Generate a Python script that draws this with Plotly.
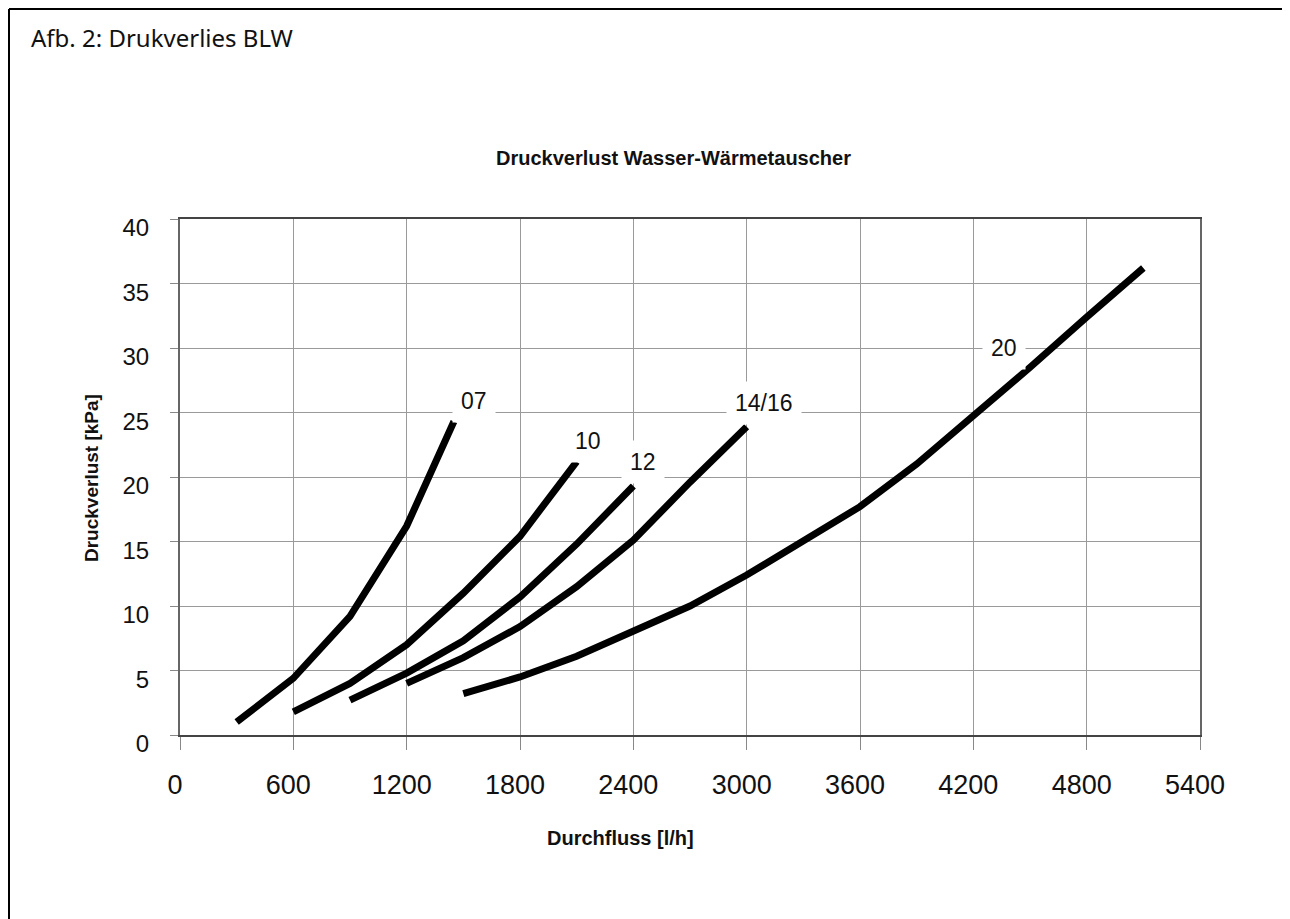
import plotly.graph_objects as go

# ---- data ----
x_07 = [300, 600, 900, 1200, 1450]
y_07 = [1.0, 4.4, 9.2, 16.2, 24.3]

x_10 = [600, 900, 1200, 1500, 1800, 2100]
y_10 = [1.8, 4.0, 7.0, 11.0, 15.4, 21.2]

x_12 = [900, 1200, 1500, 1800, 2100, 2400]
y_12 = [2.7, 4.8, 7.3, 10.7, 14.8, 19.3]

x_1416 = [1200, 1500, 1800, 2100, 2400, 2700, 3000]
y_1416 = [4.0, 6.0, 8.4, 11.5, 15.1, 19.6, 23.9]

x_20 = [1500, 1800, 2100, 2400, 2700, 3000, 3300, 3600, 3900, 4200, 4500, 4800, 5100]
y_20 = [3.2, 4.5, 6.1, 8.0, 10.0, 12.4, 15.0, 17.7, 21.0, 24.7, 28.5, 32.4, 36.2]

series_names = ["07", "10", "12", "14/16", "20"]
label_x = [1556, 2160, 2451, 3092, 4362]
label_y = [25.9, 22.8, 21.2, 25.7, 30.0]

x_ticks = [0, 600, 1200, 1800, 2400, 3000, 3600, 4200, 4800, 5400]
y_ticks = [0, 5, 10, 15, 20, 25, 30, 35, 40]

header_text = "Afb. 2: Drukverlies BLW"
chart_title = "Druckverlust Wasser-Wärmetauscher"
x_title = "Durchfluss [l/h]"
y_title = "Druckverlust [kPa]"

# ---- geometry ----
OFF = 8                      # page body margin in the browser
FW, FH = 1290 - OFF, 919 - OFF
L, R, T, B = 180, 1200, 219, 735  # plot area in screen pixels


def px_x(p):
    return (p - L) / (R - L)


def px_y(p):
    return (B - p) / (B - T)


fig = go.Figure()
for xs, ys, nm in zip([x_07, x_10, x_12, x_1416, x_20],
                      [y_07, y_10, y_12, y_1416, y_20], series_names):
    fig.add_trace(go.Scatter(x=xs, y=ys, mode="lines", name=nm,
                             line=dict(color="black", width=7),
                             hoverinfo="skip"))

for nm, lx, ly in zip(series_names, label_x, label_y):
    fig.add_annotation(x=lx, y=ly, xref="x", yref="y", text=nm,
                       showarrow=False, bgcolor="white", borderpad=8,
                       font=dict(family="Liberation Sans", size=23, color="#111"))

fig.update_layout(
    width=FW, height=FH,
    margin=dict(l=L - OFF, r=FW - (R - OFF), t=T - OFF, b=FH - (B - OFF), pad=0),
    paper_bgcolor="white", plot_bgcolor="white",
    showlegend=False,
    font=dict(family="Liberation Sans", color="#111"),
)

fig.update_xaxes(range=[0, 5400], tickvals=x_ticks, ticktext=[str(v) for v in x_ticks],
                 showgrid=True, gridcolor="#9a9a9a", gridwidth=1.2,
                 showline=True, linecolor="#444", linewidth=2, mirror=True,
                 ticks="outside", ticklen=13, tickcolor="#888", tickwidth=1.2,
                 tickfont=dict(size=27, family="Liberation Sans", color="#111"),
                 ticklabelstandoff=12, ticklabelshift=-5, zeroline=False)
fig.update_yaxes(range=[0, 40], tickvals=y_ticks, ticktext=[str(v) for v in y_ticks],
                 showgrid=True, gridcolor="#9a9a9a", gridwidth=1.2,
                 showline=True, linecolor="#666", linewidth=2, mirror=True,
                 ticks="outside", ticklen=8, tickcolor="#888", tickwidth=1.2,
                 tickfont=dict(size=24, family="Liberation Sans", color="#111"),
                 ticklabelstandoff=16, ticklabelshift=9, zeroline=False)

# text outside the plot
fig.add_annotation(x=px_x(29), y=px_y(37), xref="paper", yref="paper",
                   xanchor="left", yanchor="middle", showarrow=False,
                   text=header_text, font=dict(family="Noto Sans", size=24, color="#111"))
fig.add_annotation(x=px_x(673), y=px_y(158), xref="paper", yref="paper",
                   xanchor="center", yanchor="middle", showarrow=False,
                   text="<b>" + chart_title + "</b>",
                   font=dict(family="Liberation Sans", size=20, color="#111"))
fig.add_annotation(x=px_x(620), y=px_y(838), xref="paper", yref="paper",
                   xanchor="center", yanchor="middle", showarrow=False,
                   text="<b>" + x_title + "</b>",
                   font=dict(family="Liberation Sans", size=20, color="#111"))
fig.add_annotation(x=px_x(91), y=px_y(478), xref="paper", yref="paper",
                   xanchor="center", yanchor="middle", showarrow=False, textangle=-90,
                   text="<b>" + y_title + "</b>",
                   font=dict(family="Liberation Sans", size=19, color="#111"))

# outer frame (top and left edges)
fig.add_shape(type="line", xref="paper", yref="paper",
              x0=px_x(9), x1=px_x(1300), y0=px_y(9), y1=px_y(9),
              line=dict(color="black", width=2))
fig.add_shape(type="line", xref="paper", yref="paper",
              x0=px_x(9), x1=px_x(9), y0=px_y(9), y1=px_y(930),
              line=dict(color="black", width=2))

fig.write_html("out.html")
